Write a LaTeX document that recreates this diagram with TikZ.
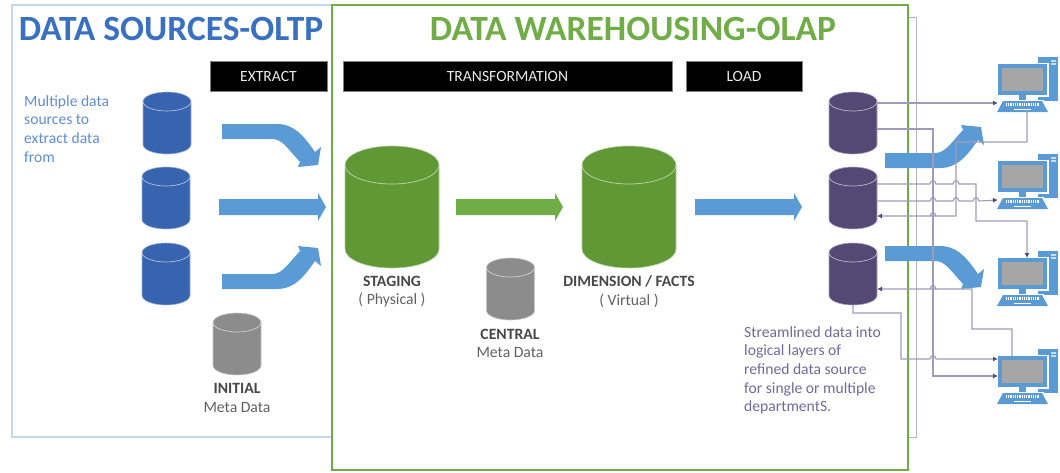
\documentclass[tikz,border=0pt]{standalone}
\usepackage{fontspec}
\setmainfont{Carlito}
\usetikzlibrary{arrows.meta}
\definecolor{blueframe}{HTML}{C6D6F0}
\definecolor{greenframe}{HTML}{70AD47}
\definecolor{purpleline}{HTML}{A09BBB}
\definecolor{outerline}{HTML}{B5B1C9}
\definecolor{purpledark}{HTML}{524A74}
\definecolor{cylblue}{HTML}{3763AF}
\definecolor{cylgreen}{HTML}{619836}
\definecolor{cylgrey}{HTML}{8C8C8C}
\definecolor{arrowblue}{HTML}{5B9BD5}
\definecolor{screengrey}{HTML}{A6A6A6}
\definecolor{titleblue}{HTML}{3A70C2}
\definecolor{noteblue}{HTML}{5F8DD3}
\definecolor{notepurple}{HTML}{706A98}
\tikzset{
  headbox/.style={fill=black,draw=gray,line width=0.5pt,text=white!92!black,minimum height=30pt,inner sep=0pt,font=\fontsize{15.6}{17}\selectfont},
  titletext/.style={font=\fontsize{35.5}{38}\selectfont\bfseries,inner sep=0pt},
  boldlabel/.style={font=\fontsize{15.7}{17}\selectfont\bfseries,text=black!72,inner sep=0pt},
  subl/.style={font=\fontsize{15.7}{17}\selectfont,text=black!62,inner sep=0pt},
  note/.style={font=\fontsize{15.6}{18.7}\selectfont,align=left,anchor=north west,inner sep=0pt},
  link/.style={draw=purpleline,line width=1.1pt},
  linkarrow/.style={link,-{Latex[length=5pt,width=5pt,color=purpledark]}},
  dbanchor/.style={inner sep=0pt,outer sep=0pt,draw=none},
  computer/.pic={
    \fill[arrowblue] (40,-7) rectangle (60,37);
    \fill[white] (-1.5,-1.5) rectangle (50.5,32.5);
    \fill[arrowblue] (0,0) rectangle (49,31);
    \fill[screengrey] (4,4) rectangle (45,27);
    \fill[arrowblue] (21,31) rectangle (28,36);
    \fill[white] (3,36) rectangle (46,37);
    \fill[arrowblue] (5,37) -- (44,37) -- (50,48) -- (-1,48) -- cycle;
    \draw[white,line width=2.4pt,dash pattern=on 1pt off 0.8pt] (8,40.5) -- (41,40.5);
    \draw[white,line width=1.4pt] (16,45.5) -- (33,45.5);
    \fill[white] (53,-3.6) rectangle (58,-2.4) (53,-0.6) rectangle (58,0.6);
    \coordinate (-l) at (0,39);
    \coordinate (-bot) at (29,47);
    \coordinate (-top) at (29,0);
    \coordinate (-top2) at (14,0);
    \coordinate (-l1) at (0,3);
    \coordinate (-l2) at (0,20);
  }
}
% name, x centre, y top, width, height, cap half-height, fill colour
\newcommand{\dbcyl}[7]{%
  \pgfmathsetmacro{\rr}{#4/2}%
  \pgfmathsetmacro{\kr}{0.5523*#4/2}%
  \pgfmathsetmacro{\ka}{#6*(1-0.5523)}%
  \pgfmathsetmacro{\kb}{#6*(1+0.5523)}%
  \pgfmathsetmacro{\hb}{#5-#6}%
  \pgfmathsetmacro{\hc}{#5-#6*(1-0.5523)}%
  \pgfmathsetmacro{\tt}{2*#6}%
  \node[dbanchor,minimum width=#4pt,minimum height=#5pt] (#1) at (#2,{#3+#5/2}) {};
  \begin{scope}[shift={(#2,#3)}]
    \path[fill=#7,draw=#7!50!white,line width=0.6pt]
      (-\rr,#6) .. controls (-\rr,\ka) and (-\kr,0) .. (0,0)
      .. controls (\kr,0) and (\rr,\ka) .. (\rr,#6)
      -- (\rr,\hb) .. controls (\rr,\hc) and (\kr,#5) .. (0,#5)
      .. controls (-\kr,#5) and (-\rr,\hc) .. (-\rr,\hb) -- cycle;
    \path[draw=#7!40!white,line width=0.7pt]
      (-\rr,#6) .. controls (-\rr,\kb) and (-\kr,\tt) .. (0,\tt)
      .. controls (\kr,\tt) and (\rr,\kb) .. (\rr,#6);
  \end{scope}}
\newcommand{\hopat}[2]{-- ({#1-3},#2) .. controls ({#1-2},{#2-4.5}) and ({#1+2},{#2-4.5}) .. ({#1+3},#2)}
\newcommand{\bendarrow}[3]{%
  \fill[arrowblue,shift={(#1,#2)},yscale=#3] (0,0) -- (0,-15) -- (50,-15) .. controls (58,-15) and (63,-21) .. (70,-29) -- (78,-38) -- (76,-43) -- (96,-41) -- (99,-23) -- (93,-28) .. controls (82,-12) and (72,0) .. (55,0) -- cycle;}
\newcommand{\straightarrow}[2]{%
  \fill[#2] (#1,199) -- ({#1+99},199) -- ({#1+99},193) -- ({#1+107},207) -- ({#1+99},221) -- ({#1+99},215) -- (#1,215) -- cycle;}
\begin{document}
\begin{tikzpicture}[x=1pt,y=-1pt]
\useasboundingbox (0,0) rectangle (1060,472);
% frames
\draw[blueframe,line width=1.3pt] (332,5) -- (12,5) -- (12,437) -- (332,437);
\draw[outerline,line width=1pt] (908,17) -- (916,17) -- (916,437) -- (908,437);
\draw[greenframe,line width=2pt] (331.5,5) rectangle (908,470);
% titles
\node[titletext,text=titleblue] (t1) at (171,29) {DATA SOURCES-OLTP};
\node[titletext,text=greenframe] (t2) at (633,29) {DATA WAREHOUSING-OLAP};
% header boxes
\node[headbox,minimum width=117pt] (hx) at (268.5,76) {EXTRACT};
\node[headbox,minimum width=329pt] (ht) at (507.5,76) {TRANSFORMATION};
\node[headbox,minimum width=116pt] (hl) at (744,76) {LOAD};
% databases
\dbcyl{s1}{167}{92}{48}{62}{9.5}{cylblue}
\dbcyl{s2}{166}{167}{48}{62}{9.5}{cylblue}
\dbcyl{s3}{166}{243}{48}{62}{9.5}{cylblue}
\dbcyl{g1}{237}{313}{48}{62}{9.5}{cylgrey}
\dbcyl{stg}{392}{146}{94}{122}{19}{cylgreen}
\dbcyl{dim}{629}{146}{94}{122}{19}{cylgreen}
\dbcyl{g2}{510.5}{258}{48}{62}{9.5}{cylgrey}
\dbcyl{p1}{853}{92}{48}{62}{9.5}{purpledark}
\dbcyl{p2}{853}{167}{48}{62}{9.5}{purpledark}
\dbcyl{p3}{853}{243}{48}{62}{9.5}{purpledark}
% labels
\node[note,text=noteblue] (n1) at (24,95) {Multiple data\\sources to\\extract data\\from};
\node[boldlabel] (l1) at (237,388) {INITIAL};
\node[subl] (l1b) at (237,408) {Meta Data};
\node[boldlabel] (l2) at (392,281.5) {STAGING};
\node[subl] (l2b) at (392,300.5) {( Physical )};
\node[boldlabel] (l3) at (510,334) {CENTRAL};
\node[subl] (l3b) at (510,352.5) {Meta Data};
\node[boldlabel] (l4) at (629,281.5) {DIMENSION / FACTS};
\node[subl] (l4b) at (629,300.5) {( Virtual )};
\node[note,text=notepurple] (n2) at (744,326) {Streamlined data into\\logical layers of\\refined data source\\for single or multiple\\departmentS.};
% block arrows
\bendarrow{222}{124}{-1}
\straightarrow{219}{arrowblue}
\bendarrow{222}{289}{1}
\straightarrow{456}{greenframe}
\straightarrow{695}{arrowblue}
\bendarrow{885}{168}{1}
\bendarrow{885}{246}{-1}
% computers
\pic (c1) at (998,64) {computer};
\pic (c2) at (998,161) {computer};
\pic (c3) at (998,258) {computer};
\pic (c4) at (998,356) {computer};
% ports
\coordinate (p1a) at (877,103);
\coordinate (p1b) at (877,129);
\coordinate (p2a) at (877,184);
\coordinate (p2b) at (877,201);
\coordinate (p2c) at (877,216);
\coordinate (p3a) at (877,289);
% connectors
\draw[linkarrow] (p1a) -- (c1-l);
\draw[linkarrow] (p1b) -- (933,129) -- (933,376) -- (c4-l2);
\draw[linkarrow] (c1-bot) -- (1027,142) -- (956,142) -- (956,216) \hopat{933}{216} -- (p2c);
\draw[linkarrow] (p2a) \hopat{933}{184} \hopat{956}{184} -- (976,184) -- (976,221) -- (1027,221) -- (c3-top);
\draw[linkarrow] (p2b) \hopat{933}{201} \hopat{956}{201} \hopat{976}{201} -- (c2-l);
\draw[linkarrow] (c4-top2) -- (1012,329) -- (972,329) -- (972,289) \hopat{933}{289} -- (p3a);
\draw[linkarrow] (p3.south) -- (853,313) -- (901,313) -- (901,359) \hopat{933}{359} -- (c4-l1);
\end{tikzpicture}
\end{document}
